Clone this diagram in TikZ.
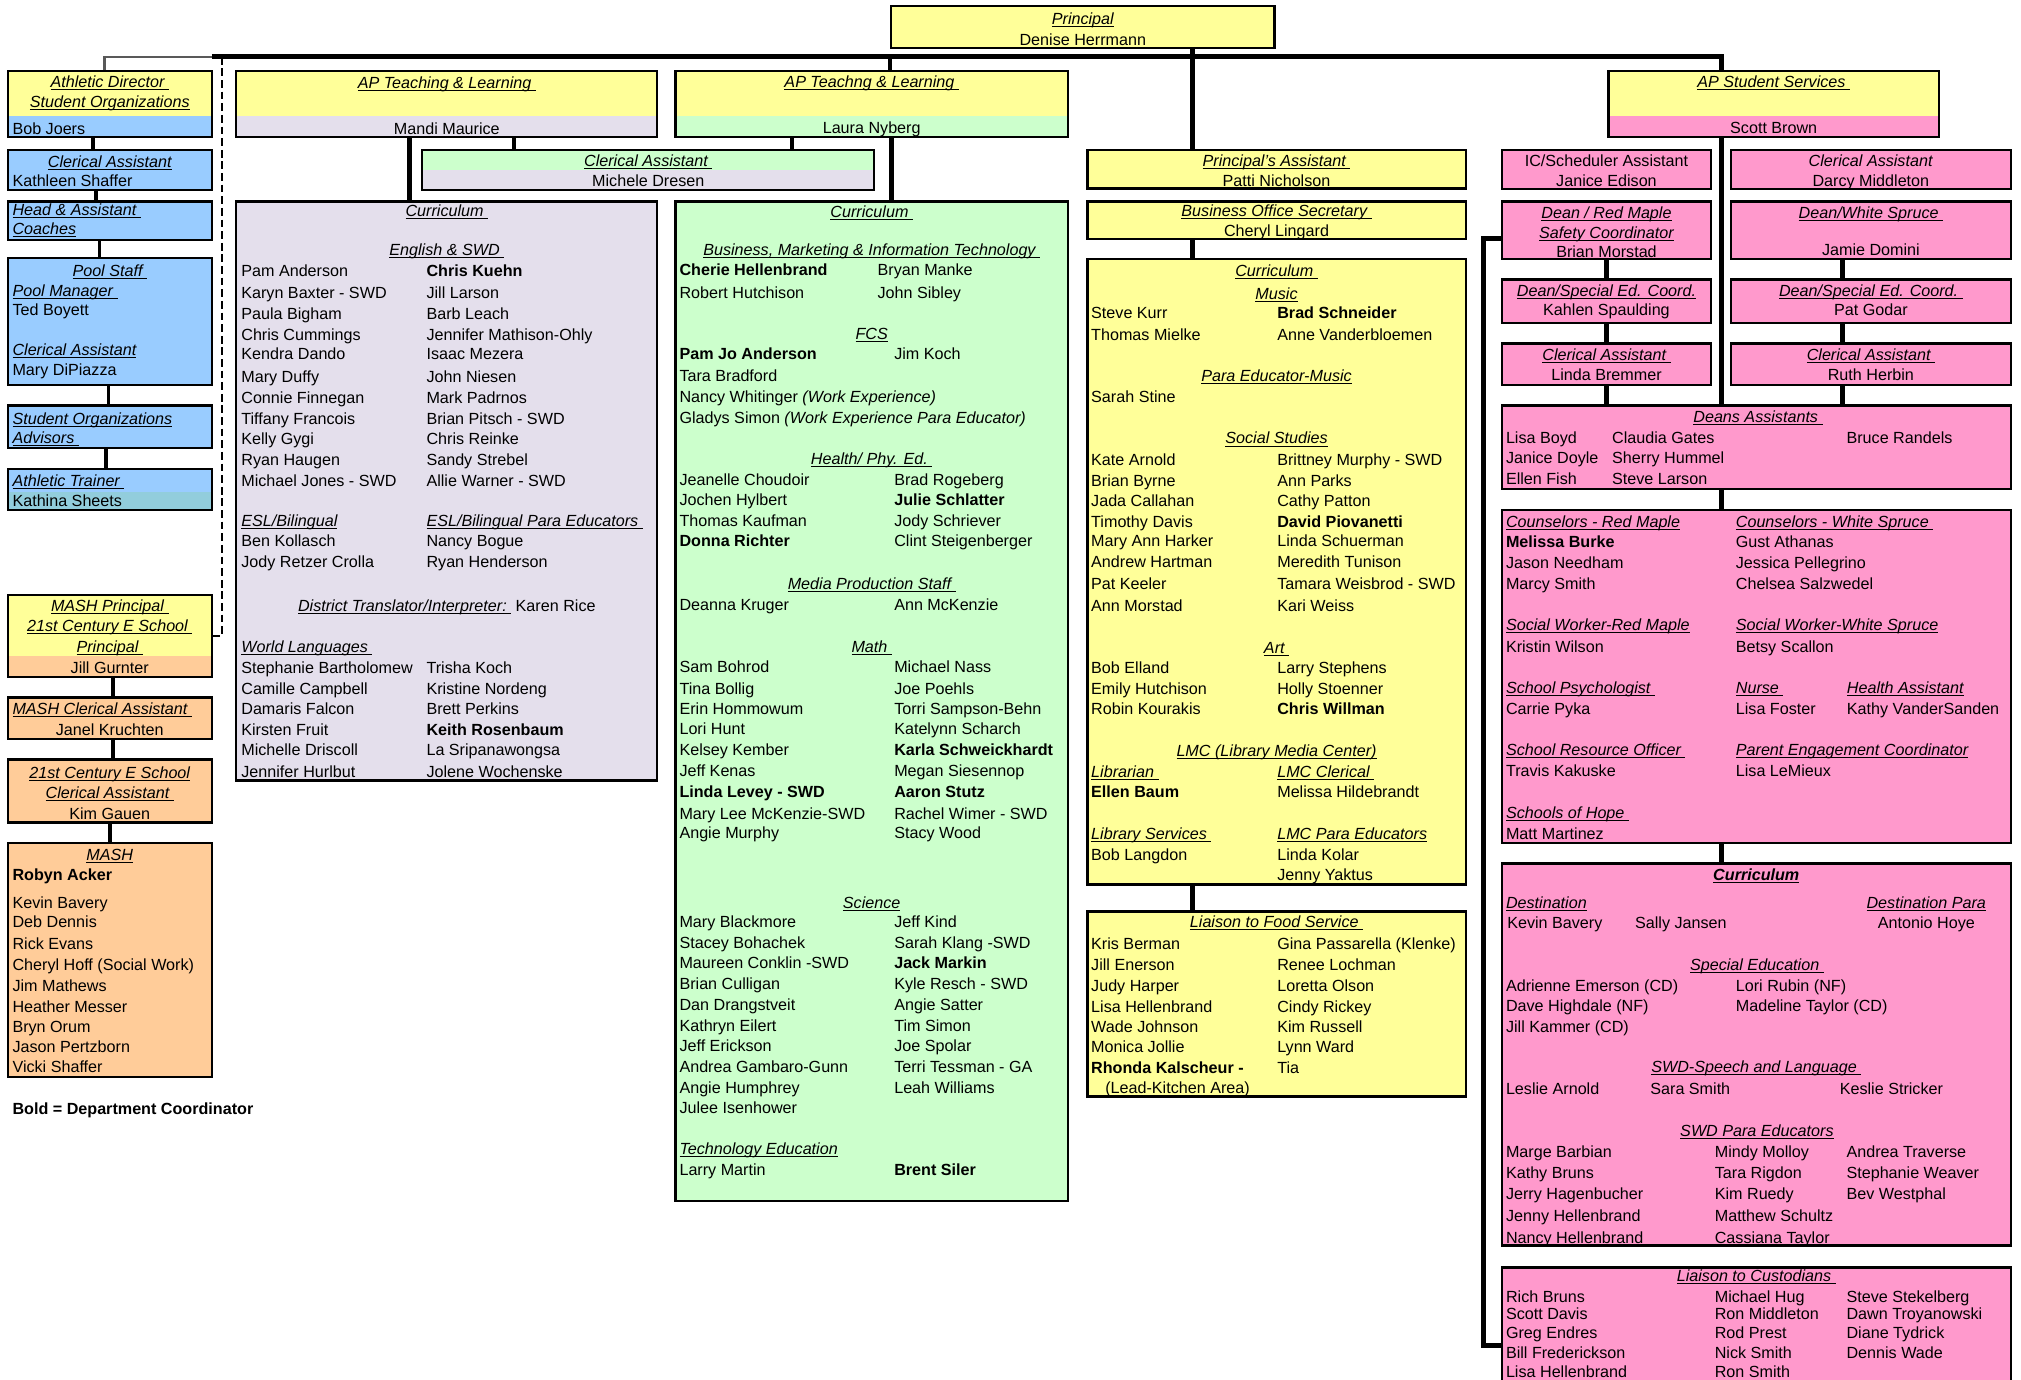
\documentclass[tikz,border=0pt]{standalone}
\usepackage{fontspec}
\setmainfont{Liberation Sans}
\usetikzlibrary{fit}

\definecolor{ylw}{RGB}{255,255,153}
\definecolor{blu}{RGB}{153,204,255}
\definecolor{tea}{RGB}{146,205,220}
\definecolor{lav}{RGB}{228,223,236}
\definecolor{grn}{RGB}{204,255,204}
\definecolor{org}{RGB}{255,204,153}
\definecolor{pnk}{RGB}{255,153,204}

% underlined italic heading
\newcommand{\hd}[1]{\underline{\raisebox{0pt}[\height][0pt]{\itshape #1}}}

\tikzset{
  box/.style={draw, line width=1.8pt, inner sep=0pt},
  low/.style 2 args={path picture={\fill[#1] (path picture bounding box.south west) rectangle ([yshift=#2]path picture bounding box.south east);}},
  txt/.style={anchor=base west, inner sep=0pt, yshift=-4.5pt},
  ctr/.style={anchor=base, inner sep=0pt, yshift=-4.5pt},
  rgt/.style={anchor=base east, inner sep=0pt, yshift=-4.5pt},
  lnk/.style={line width=3pt},
  thk/.style={line width=3.8pt},
  dsh/.style={line width=2pt, dash pattern=on 6pt off 3pt}
}

\begin{document}
\begin{tikzpicture}[x=1pt, y=-1pt, font=\fontsize{12.5}{15}\selectfont]
\useasboundingbox (0,0) rectangle (1565,1068.6);

% ---------- boxes ----------
\node[box, fill=ylw, fit={(690,4.5)(987,37)}] (prin) {};

\node[box, fill=ylw, low={blu}{16pt}, fit={(6,55)(164,106)}] (ad) {};
\node[box, fill=blu, fit={(6,116)(164,147)}] (ca1) {};
\node[box, fill=blu, fit={(6,156)(164,186)}] (hac) {};
\node[box, fill=blu, fit={(6,200)(164,298)}] (pool) {};
\node[box, fill=blu, fit={(6,314)(164,347)}] (soa) {};
\node[box, fill=blu, low={tea}{14pt}, fit={(6,363)(164,395)}] (atr) {};
\node[box, fill=ylw, low={org}{16pt}, fit={(6,461)(164,524)}] (mashp) {};
\node[box, fill=org, fit={(6,540)(164,572)}] (mca) {};
\node[box, fill=org, fit={(6,588)(164,637)}] (cce) {};
\node[box, fill=org, fit={(6,653)(164,834)}] (mash) {};

\node[box, fill=ylw, low={lav}{16pt}, fit={(183,55)(509,106)}] (apl) {};
\node[box, fill=grn, low={lav}{15.5pt}, fit={(327,116)(677,147)}] (cam) {};
\node[box, fill=lav, fit={(183,156)(509,604.5)}] (lavc) {};

\node[box, fill=ylw, low={grn}{16pt}, fit={(523,55)(827,106)}] (apg) {};
\node[box, fill=grn, fit={(523,156)(827,930)}] (grnc) {};

\node[box, fill=ylw, fit={(842,116)(1135,146)}] (pa) {};
\node[box, fill=ylw, fit={(842,156)(1135,185)}] (bos) {};
\node[box, fill=ylw, fit={(842,200.5)(1135,685)}] (ylc) {};
\node[box, fill=ylw, fit={(842,705.8)(1135,849)}] (food) {};

\node[box, fill=ylw, low={pnk}{16pt}, fit={(1245.6,55)(1501.3,106)}] (aps) {};
\node[box, fill=pnk, fit={(1163,116)(1325,146.6)}] (ic) {};
\node[box, fill=pnk, fit={(1340.5,116)(1557,146.6)}] (cad) {};
\node[box, fill=pnk, fit={(1163,156)(1325,200.5)}] (drm) {};
\node[box, fill=pnk, fit={(1340.5,156)(1557,200.5)}] (dws) {};
\node[box, fill=pnk, fit={(1163,216.5)(1325,250)}] (dsl) {};
\node[box, fill=pnk, fit={(1340.5,216.5)(1557,250)}] (dsr) {};
\node[box, fill=pnk, fit={(1163,266)(1325,298)}] (cal) {};
\node[box, fill=pnk, fit={(1340.5,266)(1557,298)}] (car) {};
\node[box, fill=pnk, fit={(1163,314)(1557,378.5)}] (da) {};
\node[box, fill=pnk, fit={(1163,395)(1557,652.6)}] (coun) {};
\node[box, fill=pnk, fit={(1163,668.6)(1557,964.5)}] (pcur) {};
\node[box, fill=pnk, fit={(1163,981.5)(1557,1075)}] (cust) {};

% ---------- connectors ----------
\coordinate (bus-l) at (164,44);
\coordinate (bus-r) at (1333,44);
\coordinate (dash-top) at (172,44);

\draw[thk] (bus-l) -- (bus-r) -- (bus-r |- aps.north);
\draw[line width=2pt, black!65] ([xshift=-4pt]ad.north) |- (bus-l);
\draw[dsh] (dash-top) |- (mashp.east);

\draw[lnk] ([xshift=-13pt]ad.south) -- ([xshift=-13pt]ca1.north);
\draw[lnk] ([xshift=-11pt]ca1.south) -- ([xshift=-11pt]hac.north);
\draw[lnk] ([xshift=-8pt]hac.south) -- ([xshift=-8pt]pool.north);
\draw[lnk] ([xshift=-1pt]pool.south) -- ([xshift=-1pt]soa.north);
\draw[lnk] ([xshift=-3pt]soa.south) -- ([xshift=-3pt]atr.north);
\draw[lnk] ([xshift=2.5pt]mashp.south) -- ([xshift=2.5pt]mca.north);
\draw[lnk] ([xshift=2.5pt]mca.south) -- ([xshift=2.5pt]cce.north);
\draw[lnk] (cce.south) -- (mash.north);

\draw[thk] ([xshift=-29pt]apl.south) -- ([xshift=-29pt]lavc.north);
\draw[lnk] ([xshift=52pt]apl.south) -- ([xshift=-104pt]cam.north);
\draw[lnk] (prin.south west |- bus-l) -- (prin.south west |- apg.north);
\draw[thk] ([xshift=15pt]apg.south) -- ([xshift=15pt]grnc.north);
\draw[lnk] ([xshift=-62pt]apg.south) -- ([xshift=111pt]cam.north);

\draw[thk] ([xshift=85pt]prin.south) -- ([xshift=-65pt]pa.north);
\draw[thk] ([xshift=-65pt]bos.south) -- ([xshift=-65pt]ylc.north);
\draw[thk] ([xshift=-65pt]ylc.south) -- ([xshift=-65pt]food.north);

\draw[thk] (bus-r |- aps.south) -- (bus-r |- da.north);
\draw[thk] (bus-r |- da.south) -- (bus-r |- coun.north);
\draw[thk] (bus-r |- coun.south) -- (bus-r |- pcur.north);
\draw[thk] (drm.south) -- (dsl.north);
\draw[thk] (dsl.south) -- (cal.north);
\draw[thk] (cal.south) -- (cal.south |- da.north);
\draw[thk] ([xshift=-22pt]dws.south) -- ([xshift=-22pt]dsr.north);
\draw[thk] ([xshift=-22pt]dsr.south) -- ([xshift=-22pt]car.north);
\draw[thk] ([xshift=-22pt]car.south) -- ([xshift=-22pt]car.south |- da.north);
\draw[thk] ([yshift=-29.8pt]drm.north west) -- ++(-13pt,0) |- ([yshift=-61pt]cust.north west);

% ---------- principal ----------
\node[ctr] (prin-t) at (838.5,14.2) {\hd{Principal}};
\node[ctr] (prin-n) at (838.5,30.5) {Denise Herrmann};

% ---------- left column ----------
\node[ctr] (ad-t1) at (85,63.2) {\hd{Athletic Director\ }};
\node[ctr] (ad-t2) at (85,78.7) {\hd{Student Organizations}};
\node[txt] (ad-n) at (9.5,99.4) {Bob Joers};
\node[ctr] (ca1-t) at (85,125.2) {\hd{Clerical Assistant}};
\node[txt] (ca1-n) at (9.5,139.6) {Kathleen Shaffer};
\node[txt] (hac-t1) at (9.5,162.6) {\hd{Head \& Assistant\ }};
\node[txt] (hac-t2) at (9.5,177) {\hd{Coaches}};
\node[ctr] (pool-t) at (85,209.6) {\hd{Pool Staff\ }};
\node[txt] (pool-t2) at (9.5,225) {\hd{Pool Manager\ }};
\node[txt] (pool-n1) at (9.5,239.5) {Ted Boyett};
\node[txt] (pool-t3) at (9.5,270.5) {\hd{Clerical Assistant}};
\node[txt] (pool-n2) at (9.5,286) {Mary DiPiazza};
\node[txt] (soa-t1) at (9.5,324) {\hd{Student Organizations}};
\node[txt] (soa-t2) at (9.5,338.7) {\hd{Advisors\ }};
\node[txt] (atr-t) at (9.5,372.2) {\hd{Athletic Trainer\ }};
\node[txt] (atr-n) at (9.5,388) {Kathina Sheets};

\node[ctr] (mashp-t1) at (85,469.2) {\hd{MASH Principal\ }};
\node[ctr] (mashp-t2) at (85,484.5) {\hd{21st Century E School\ }};
\node[ctr] (mashp-t3) at (85,500.5) {\hd{Principal\ }};
\node[ctr] (mashp-n) at (85,516.7) {Jill Gurnter};
\node[txt] (mca-t) at (9.5,548.5) {\hd{MASH Clerical Assistant\ }};
\node[ctr] (mca-n) at (85,564.7) {Janel Kruchten};
\node[ctr] (cce-t1) at (85,598.4) {\hd{21st Century E School}};
\node[ctr] (cce-t2) at (85,613.7) {\hd{Clerical Assistant\ }};
\node[ctr] (cce-n) at (85,630) {Kim Gauen};
\node[ctr] (mash-t) at (85,661.8) {\hd{MASH}};
\node[txt] (mash-lead) at (9.5,677) {\textbf{Robyn Acker}};
\foreach \y/\s [count=\i] in {698.8/Kevin Bavery, 714/Deb Dennis, 730.6/Rick Evans,
    746.9/Cheryl Hoff (Social Work), 763/Jim Mathews, 779.6/Heather Messer,
    795/Bryn Orum, 810.2/Jason Pertzborn, 825.8/Vicki Shaffer}
  \node[txt] (mash-\i) at (9.5,\y) {\s};
\node[txt] (note) at (9.5,858.6) {\textbf{Bold = Department Coordinator}};

% ---------- AP teaching & learning (lavender) ----------
\node[ctr] (apl-t) at (346,64) {\hd{AP Teaching \& Learning\ }};
\node[ctr] (apl-n) at (346,99.4) {Mandi Maurice};
\node[ctr] (cam-t) at (502,124.5) {\hd{Clerical Assistant\ }};
\node[ctr] (cam-n) at (502,140) {Michele Dresen};

\node[ctr] (lav-h1) at (346,163) {\hd{Curriculum\ }};
\node[ctr] (lav-h2) at (346,193.6) {\hd{English \& SWD\ }};
\node[txt] (lav-h3) at (186.7,403) {\hd{ESL/Bilingual}};
\node[txt] (lav-h4) at (330.1,403) {\hd{ESL/Bilingual Para Educators\ }};
\node[ctr] (lav-h5) at (346,469) {\hd{District Translator/Interpreter:\ } Karen Rice};
\node[txt] (lav-h6) at (186.7,500.5) {\hd{World Languages\ }};
\foreach \y/\a/\b [count=\i] in {209.6/Pam Anderson/\textbf{Chris Kuehn},
    227/Karyn Baxter - SWD/Jill Larson, 242.6/Paula Bigham/Barb Leach,
    258.9/Chris Cummings/Jennifer Mathison-Ohly, 273.6/Kendra Dando/Isaac Mezera,
    291.7/Mary Duffy/John Niesen, 307.7/Connie Finnegan/Mark Padrnos,
    324/Tiffany Francois/Brian Pitsch - SWD, 339.4/Kelly Gygi/Chris Reinke,
    356.2/Ryan Haugen/Sandy Strebel, 372.2/Michael Jones - SWD/Allie Warner - SWD,
    418.7/Ben Kollasch/Nancy Bogue, 435/Jody Retzer Crolla/Ryan Henderson,
    517/Stephanie Bartholomew/Trisha Koch, 533.2/Camille Campbell/Kristine Nordeng,
    548.5/Damaris Falcon/Brett Perkins, 564.7/Kirsten Fruit/\textbf{Keith Rosenbaum},
    580.7/Michelle Driscoll/La Sripanawongsa, 597.5/Jennifer Hurlbut/Jolene Wochenske}
  {\node[txt] (lav-l\i) at (186.7,\y) {\a};
   \node[txt] (lav-r\i) at (330.1,\y) {\b};}

% ---------- AP teachng & learning (green) ----------
\node[ctr] (apg-t) at (675,63) {\hd{AP Teachng \& Learning\ }};
\node[ctr] (apg-n) at (675,99) {Laura Nyberg};

\node[ctr] (grn-h1) at (675,164) {\hd{Curriculum\ }};
\node[ctr] (grn-h2) at (675,193.5) {\hd{Business, Marketing \& Information Technology\ }};
\node[ctr] (grn-h3) at (675,258.6) {\hd{FCS}};
\node[ctr] (grn-h4) at (675,355) {\hd{Health/ Phy. Ed.\ }};
\node[ctr] (grn-h5) at (675,451.8) {\hd{Media Production Staff\ }};
\node[ctr] (grn-h6) at (675,500.7) {\hd{Math\ }};
\node[ctr] (grn-h7) at (675,698.8) {\hd{Science}};
\node[txt] (grn-h8) at (526,889.5) {\hd{Technology Education}};
\node[txt] (grn-b1) at (526,209) {\textbf{Cherie Hellenbrand}};
\node[txt] (grn-b2) at (679.4,209) {Bryan Manke};
\node[txt] (grn-b3) at (526,227) {Robert Hutchison};
\node[txt] (grn-b4) at (679.4,227) {John Sibley};
\foreach \y/\a/\b [count=\i] in {274/\textbf{Pam Jo Anderson}/Jim Koch, 291/Tara Bradford/{},
    307/Nancy Whitinger \textit{(Work Experience)}/{},
    323.5/Gladys Simon \textit{(Work Experience Para Educator)}/{},
    371.6/Jeanelle Choudoir/Brad Rogeberg, 387/Jochen Hylbert/\textbf{Julie Schlatter},
    403/Thomas Kaufman/Jody Schriever, 418.7/\textbf{Donna Richter}/Clint Steigenberger,
    468/Deanna Kruger/Ann McKenzie,
    516.6/Sam Bohrod/Michael Nass, 533/Tina Bollig/Joe Poehls,
    548.5/Erin Hommowum/Torri Sampson-Behn, 564/Lori Hunt/Katelynn Scharch,
    580.3/Kelsey Kember/\textbf{Karla Schweickhardt}, 597/Jeff Kenas/Megan Siesennop,
    612.7/\textbf{Linda Levey - SWD}/\textbf{Aaron Stutz},
    630/Mary Lee McKenzie-SWD/Rachel Wimer - SWD, 644.6/Angie Murphy/Stacy Wood,
    714/Mary Blackmore/Jeff Kind, 730/Stacey Bohachek/Sarah Klang -SWD,
    745.6/Maureen Conklin -SWD/\textbf{Jack Markin}, 762/Brian Culligan/Kyle Resch - SWD,
    778.3/Dan Drangstveit/Angie Satter, 794.6/Kathryn Eilert/Tim Simon,
    809.9/Jeff Erickson/Joe Spolar, 825.8/Andrea Gambaro-Gunn/Terri Tessman - GA,
    842.6/Angie Humphrey/Leah Williams, 858/Julee Isenhower/{},
    905.4/Larry Martin/\textbf{Brent Siler}}
  {\node[txt] (grn-l\i) at (526,\y) {\a};
   \node[txt] (grn-r\i) at (692.3,\y) {\b};}

% ---------- principal's office (yellow) ----------
\node[ctr] (pa-t) at (988.5,124.4) {\hd{Principal's Assistant\ }};
\node[ctr] (pa-n) at (988.5,139.7) {Patti Nicholson};
\node[ctr] (bos-t) at (988.5,163) {\hd{Business Office Secretary\ }};
\node[ctr] (bos-n) at (988.5,178.4) {Cheryl Lingard};

\node[ctr] (ylc-h1) at (988.5,209.3) {\hd{Curriculum\ }};
\node[ctr] (ylc-h2) at (988.5,227.3) {\hd{Music}};
\node[ctr] (ylc-h3) at (988.5,291) {\hd{Para Educator-Music}};
\node[ctr] (ylc-h4) at (988.5,339.3) {\hd{Social Studies}};
\node[ctr] (ylc-h5) at (988.5,501.2) {\hd{Art\ }};
\node[ctr] (ylc-h6) at (988.5,581.4) {\hd{LMC (Library Media Center)}};
\node[txt] (ylc-h7) at (844.8,597.4) {\hd{Librarian\ }};
\node[txt] (ylc-h8) at (988.9,597.4) {\hd{LMC Clerical\ }};
\node[txt] (ylc-h9) at (844.8,645.5) {\hd{Library Services\ }};
\node[txt] (ylc-h10) at (988.9,645.5) {\hd{LMC Para Educators}};
\foreach \y/\a/\b [count=\i] in {242.5/Steve Kurr/\textbf{Brad Schneider},
    259/Thomas Mielke/Anne Vanderbloemen, 307.5/Sarah Stine/{},
    355.6/Kate Arnold/Brittney Murphy - SWD, 372/Brian Byrne/Ann Parks,
    387.4/Jada Callahan/Cathy Patton, 403.8/Timothy Davis/\textbf{David Piovanetti},
    419/Mary Ann Harker/Linda Schuerman, 435.3/Andrew Hartman/Meredith Tunison,
    452.2/Pat Keeler/Tamara Weisbrod - SWD, 468.8/Ann Morstad/Kari Weiss,
    517/Bob Elland/Larry Stephens, 533/Emily Hutchison/Holly Stoenner,
    548.5/Robin Kourakis/\textbf{Chris Willman},
    613.2/\textbf{Ellen Baum}/Melissa Hildebrandt,
    661.6/Bob Langdon/Linda Kolar, 677.3/{}/Jenny Yaktus}
  {\node[txt] (ylc-l\i) at (844.8,\y) {\a};
   \node[txt] (ylc-r\i) at (988.9,\y) {\b};}

\node[ctr] (food-h) at (988.5,714) {\hd{Liaison to Food Service\ }};
\foreach \y/\a/\b [count=\i] in {730.7/Kris Berman/Gina Passarella (Klenke),
    746.7/Jill Enerson/Renee Lochman, 763.3/Judy Harper/Loretta Olson,
    779.4/Lisa Hellenbrand/Cindy Rickey, 794.9/Wade Johnson/Kim Russell,
    810.3/Monica Jollie/Lynn Ward, 826.7/\textbf{Rhonda Kalscheur -}/Tia}
  {\node[txt] (food-l\i) at (844.8,\y) {\a};
   \node[txt] (food-r\i) at (988.9,\y) {\b};}
\node[txt] (food-x) at (855.7,841.9) {(Lead-Kitchen Area)};

% ---------- AP student services (pink) ----------
\node[ctr] (aps-t) at (1373.5,63) {\hd{AP Student Services\ }};
\node[ctr] (aps-n) at (1373.5,99) {Scott Brown};
\node[ctr] (ic-t) at (1244,124.4) {IC/Scheduler Assistant};
\node[ctr] (ic-n) at (1244,139.7) {Janice Edison};
\node[ctr] (cad-t) at (1448.75,124.4) {\textit{Clerical Assistant}};
\node[ctr] (cad-n) at (1448.75,139.7) {Darcy Middleton};
\node[ctr] (drm-t1) at (1244,164.5) {\hd{Dean / Red Maple}};
\node[ctr] (drm-t2) at (1244,179.8) {\hd{Safety Coordinator}};
\node[ctr] (drm-n) at (1244,195) {Brian Morstad};
\node[ctr] (dws-t) at (1448.75,164.5) {\hd{Dean/White Spruce\ }};
\node[ctr] (dws-n) at (1448.75,193.6) {Jamie Domini};
\node[ctr] (dsl-t) at (1244,224.8) {\hd{Dean/Special Ed. Coord.}};
\node[ctr] (dsl-n) at (1244,240) {Kahlen Spaulding};
\node[ctr] (dsr-t) at (1448.75,224.8) {\hd{Dean/Special Ed. Coord.\ }};
\node[ctr] (dsr-n) at (1448.75,240) {Pat Godar};
\node[ctr] (cal-t) at (1244,274.6) {\hd{Clerical Assistant\ }};
\node[ctr] (cal-n) at (1244,289.8) {Linda Bremmer};
\node[ctr] (car-t) at (1448.75,274.6) {\hd{Clerical Assistant\ }};
\node[ctr] (car-n) at (1448.75,289.8) {Ruth Herbin};

\node[ctr] (da-h) at (1361.3,323) {\hd{Deans Assistants\ }};
\foreach \y/\a/\b/\c [count=\i] in {338.8/Lisa Boyd/Claudia Gates/Bruce Randels,
    354.8/Janice Doyle/Sherry Hummel/{}, 371/Ellen Fish/Steve Larson/{}}
  {\node[txt] (da-a\i) at (1166,\y) {\a};
   \node[txt] (da-b\i) at (1248.2,\y) {\b};
   \node[txt] (da-c\i) at (1429.7,\y) {\c};}

\foreach \y/\a/\b/\c [count=\i] in {403.8/\hd{Counselors - Red Maple}/\hd{Counselors - White Spruce\ }/{},
    419.8/\textbf{Melissa Burke}/Gust Athanas/{},
    435.8/Jason Needham/Jessica Pellegrino/{}, 451.8/Marcy Smith/Chelsea Salzwedel/{},
    484/\hd{Social Worker-Red Maple}/\hd{Social Worker-White Spruce}/{},
    500.8/Kristin Wilson/Betsy Scallon/{},
    532.3/\hd{School Psychologist\ }/\hd{Nurse\ }/\hd{Health Assistant},
    548.6/Carrie Pyka/Lisa Foster/Kathy VanderSanden,
    580.8/\hd{School Resource Officer\ }/\hd{Parent Engagement Coordinator}/{},
    596.8/Travis Kakuske/Lisa LeMieux/{},
    629.3/\hd{Schools of Hope\ }/{}/{}, 645.4/Matt Martinez/{}/{}}
  {\node[txt] (coun-a\i) at (1166,\y) {\a};
   \node[txt] (coun-b\i) at (1344,\y) {\b};
   \node[txt] (coun-c\i) at (1430,\y) {\c};}

\node[ctr] (pcur-h1) at (1360,677) {\hd{\bfseries Curriculum}};
\node[txt] (pcur-h2) at (1166,698.8) {\hd{Destination}};
\node[rgt] (pcur-h3) at (1538,698.8) {\hd{Destination Para}};
\node[txt] (pcur-d1) at (1167,714.3) {Kevin Bavery};
\node[txt] (pcur-d2) at (1266,714.3) {Sally Jansen};
\node[txt] (pcur-d3) at (1454,714.3) {Antonio Hoye};
\node[ctr] (pcur-h4) at (1360.5,746.8) {\hd{Special Education\ }};
\foreach \y/\a/\b [count=\i] in {763.3/Adrienne Emerson (CD)/Lori Rubin (NF),
    779/Dave Highdale (NF)/Madeline Taylor (CD), 795/Jill Kammer (CD)/{}}
  {\node[txt] (pcur-s\i) at (1166,\y) {\a};
   \node[txt] (pcur-t\i) at (1344,\y) {\b};}
\node[ctr] (pcur-h5) at (1360,826.3) {\hd{SWD-Speech and Language\ }};
\node[txt] (pcur-p1) at (1166,843.3) {Leslie Arnold};
\node[txt] (pcur-p2) at (1277.8,843.3) {Sara Smith};
\node[txt] (pcur-p3) at (1424.5,843.3) {Keslie Stricker};
\node[ctr] (pcur-h6) at (1360.5,875.6) {\hd{SWD Para Educators}};
\foreach \y/\a/\b/\c [count=\i] in {891.8/Marge Barbian/Mindy Molloy/Andrea Traverse,
    908.1/Kathy Bruns/Tara Rigdon/Stephanie Weaver,
    924.6/Jerry Hagenbucher/Kim Ruedy/Bev Westphal,
    941.2/Jenny Hellenbrand/Matthew Schultz/{},
    958.2/Nancy Hellenbrand/Cassiana Taylor/{}}
  {\node[txt] (para-a\i) at (1166,\y) {\a};
   \node[txt] (para-b\i) at (1327.7,\y) {\b};
   \node[txt] (para-c\i) at (1429.7,\y) {\c};}

\node[ctr] (cust-h) at (1360,988) {\hd{Liaison to Custodians\ }};
\foreach \y/\a/\b/\c [count=\i] in {1004/Rich Bruns/Michael Hug/Steve Stekelberg,
    1017.5/Scott Davis/Ron Middleton/Dawn Troyanowski,
    1032/Greg Endres/Rod Prest/Diane Tydrick,
    1047.5/Bill Frederickson/Nick Smith/Dennis Wade,
    1062/Lisa Hellenbrand/Ron Smith/{}}
  {\node[txt] (cust-a\i) at (1166,\y) {\a};
   \node[txt] (cust-b\i) at (1327.7,\y) {\b};
   \node[txt] (cust-c\i) at (1429.7,\y) {\c};}

\end{tikzpicture}
\end{document}
